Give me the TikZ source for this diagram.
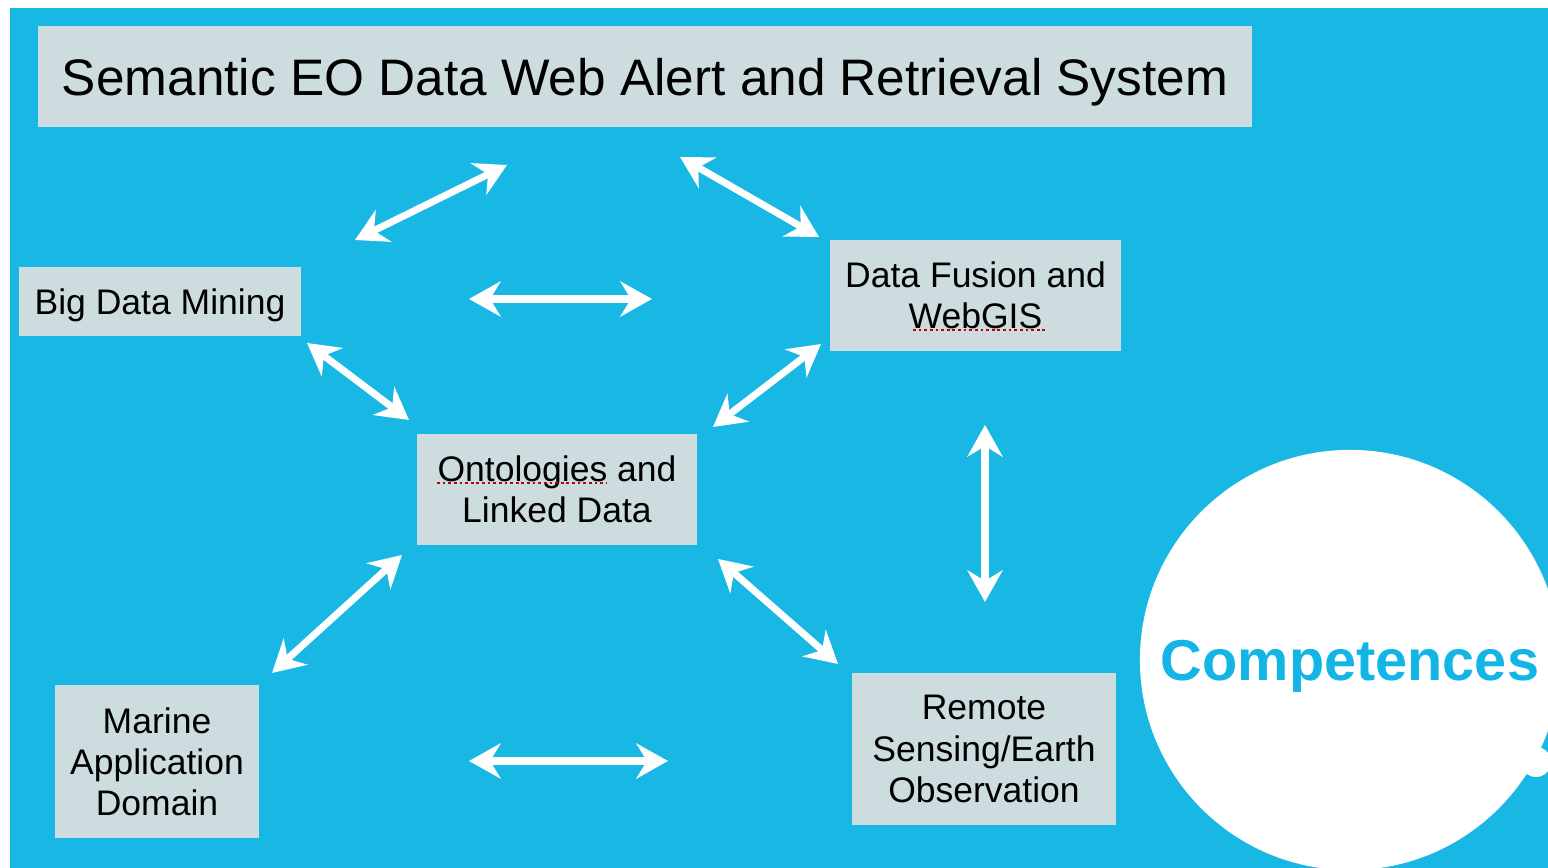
\documentclass[tikz,border=0pt]{standalone}
\usepackage{fontspec}
\setmainfont{Liberation Sans}
\usetikzlibrary{arrows.meta}

\begin{document}
\begin{tikzpicture}[x=0.01cm, y=-0.01cm,
  box/.style={fill=boxgray, inner sep=0pt, align=center, font=\fontsize{10.1pt}{11.7pt}\selectfont},
  link/.style={white, line width=2pt, {Stealth[length=9pt, width=10pt, inset=3pt]}-{Stealth[length=9pt, width=10pt, inset=3pt]}},
  squiggle/.style={red!75!black, line width=0.45pt, dash pattern=on 0.8pt off 0.8pt}]

  % Define custom colors
  \definecolor{skyblue}{RGB}{25, 183, 228}
  \definecolor{boxgray}{RGB}{205, 221, 223}
  \definecolor{compblue}{RGB}{18, 181, 230}

  % Page and background
  \useasboundingbox (0,0) rectangle (1548,868);
  \begin{scope}
    \clip (0,0) rectangle (1548,868);
    \fill[skyblue] (10,8) rectangle (1548,868);
    % Circle
    \node[circle, fill=white, minimum size=4.2cm, inner sep=0pt, text depth=0pt,
      font=\fontsize{16.4pt}{19pt}\selectfont\bfseries, text=compblue] (comp) at (1350,660) {Competences};
    \fill[white] (1536,762) circle (0.15cm);
  \end{scope}

  % Boxes
  \node[box, minimum width=12.14cm, minimum height=1.01cm, text depth=0pt,
    font=\fontsize{14.6pt}{17pt}\selectfont] (title) at (645,76.5) {Semantic EO Data Web Alert and Retrieval System};
  \node[box, minimum width=2.82cm, minimum height=0.69cm, text depth=0pt] (mining) at (160,301.5) {Big Data Mining};
  \node[box, minimum width=2.91cm, minimum height=1.11cm] (fusion) at (975.5,295.5) {Data Fusion and\\WebGIS};
  \node[box, minimum width=2.80cm, minimum height=1.11cm] (onto) at (557,489.5) {Ontologies and\\Linked Data};
  \node[box, minimum width=2.04cm, minimum height=1.53cm] (marine) at (157,761.5) {Marine\\Application\\Domain};
  \node[box, minimum width=2.64cm, minimum height=1.52cm] (remote) at (984,749) {Remote\\Sensing/Earth\\Observation};

  % Spelling marks
  \draw[squiggle] (913,330) -- (1047,330);
  \draw[squiggle] (437,483) -- (607,483);

  % Arrow ends
  \coordinate (mining-title) at (355,240);
  \coordinate (title-mining) at (507,165);
  \coordinate (title-fusion) at (680,157);
  \coordinate (fusion-title) at (819,237);
  \coordinate (mining-fusion) at (469,299);
  \coordinate (fusion-mining) at (652,299);
  \coordinate (mining-onto) at (307,343);
  \coordinate (onto-mining) at (409,420);
  \coordinate (onto-fusion) at (713,427);
  \coordinate (fusion-onto) at (821,344);
  \coordinate (fusion-remote) at (985,425);
  \coordinate (remote-fusion) at (985,602);
  \coordinate (onto-marine) at (402,555);
  \coordinate (marine-onto) at (272,673);
  \coordinate (onto-remote) at (718,559);
  \coordinate (remote-onto) at (838,664);
  \coordinate (marine-remote) at (469,761);
  \coordinate (remote-marine) at (668,761);

  % Arrows
  \draw[link] (mining-title) -- (title-mining);
  \draw[link] (title-fusion) -- (fusion-title);
  \draw[link] (mining-fusion) -- (fusion-mining);
  \draw[link] (mining-onto) -- (onto-mining);
  \draw[link] (onto-fusion) -- (fusion-onto);
  \draw[link] (fusion-remote) -- (remote-fusion);
  \draw[link] (onto-marine) -- (marine-onto);
  \draw[link] (onto-remote) -- (remote-onto);
  \draw[link] (marine-remote) -- (remote-marine);

\end{tikzpicture}
\end{document}
